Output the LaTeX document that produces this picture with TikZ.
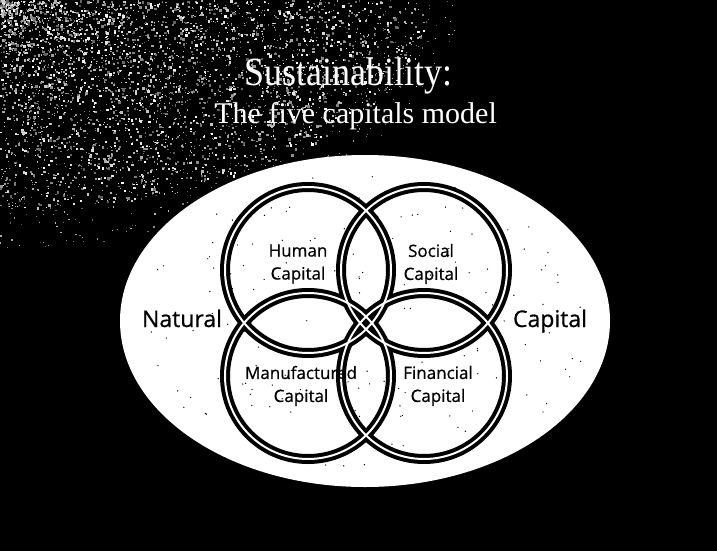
\documentclass[tikz,border=0pt]{standalone}
\usepackage{fontspec}
\newfontfamily\titlefont{Liberation Serif}
\newfontfamily\labelfont[FakeBold=0.7]{Open Sans}
\tikzset{
  ring/.style={draw=black,line width=10pt},
  ringgap/.style={draw=white,line width=2pt},
  capname/.style={font=\labelfont\fontsize{17}{23}\selectfont,align=center,inner sep=0pt},
  sidename/.style={font=\labelfont\fontsize{23}{28}\selectfont,inner sep=0pt,anchor=base},
  heading/.style={text=white,anchor=base east,inner sep=0pt}
}
\begin{document}
\begin{tikzpicture}[x=1pt,y=-1pt]
	% background
	\fill[black] (0,0) rectangle (717,551);
	\useasboundingbox (0,0) rectangle (717,551);
	% scanned texture, top left
	\pgfmathsetseed{42}
	\foreach \i in {1,...,3200}{
		\pgfmathsetmacro{\a}{90*rnd}%
		\pgfmathsetmacro{\r}{rnd^0.8}%
		\pgfmathsetmacro{\g}{35+65*rnd}%
		\pgfmathsetmacro{\s}{0.8+1.8*rnd}%
		\fill[white!\g!black] ({430*\r*cos(\a)},{210*\r*sin(\a)}) rectangle ++(\s,\s);
	}
	\foreach \i in {1,...,700}{
		\pgfmathsetmacro{\a}{90*rnd}%
		\pgfmathsetmacro{\r}{1.15*sqrt(rnd)}%
		\pgfmathsetmacro{\g}{30+50*rnd}%
		\fill[white!\g!black] ({400*\r*cos(\a)},{215*\r*sin(\a)}) rectangle ++(1.2,1.2);
	}
	% the natural capital ellipse
	\fill[white] (365,321) ellipse (245 and 166);
	% speckles on the ellipse
	\foreach \i in {1,...,180}{
		\pgfmathsetmacro{\a}{360*rnd}%
		\pgfmathsetmacro{\r}{sqrt(rnd)}%
		\fill[black] ({365+225*\r*cos(\a)},{321+150*\r*sin(\a)}) circle (0.7);
	}
	% four rings
	\coordinate (hc) at (308,270);
	\coordinate (sc) at (424,270);
	\coordinate (mc) at (308,376);
	\coordinate (fc) at (424,376);
	\foreach \c in {hc,sc,mc,fc} \draw[ring] (\c) circle (83);
	\foreach \c in {hc,sc,mc,fc} \draw[ringgap] (\c) circle (83);
	% labels
	\node[capname] (human) at (298,264) {Human\\Capital};
	\node[capname] (social) at (431,264) {Social\\Capital};
	\node[capname] (manuf) at (301,386) {Manufactured\\Capital};
	\node[capname] (financial) at (438,386) {Financial\\Capital};
	\node[sidename] (natural) at (182,327) {Natural};
	\node[sidename] (capital) at (550,327) {Capital};
	% title
	\node[heading,font=\titlefont\fontsize{40}{40}\selectfont,xscale=0.9] (title) at (453,85) {Sustainability:};
	\node[heading,font=\titlefont\fontsize{30}{30}\selectfont] (subtitle) at (497,123) {The five capitals model};
\end{tikzpicture}
\end{document}
